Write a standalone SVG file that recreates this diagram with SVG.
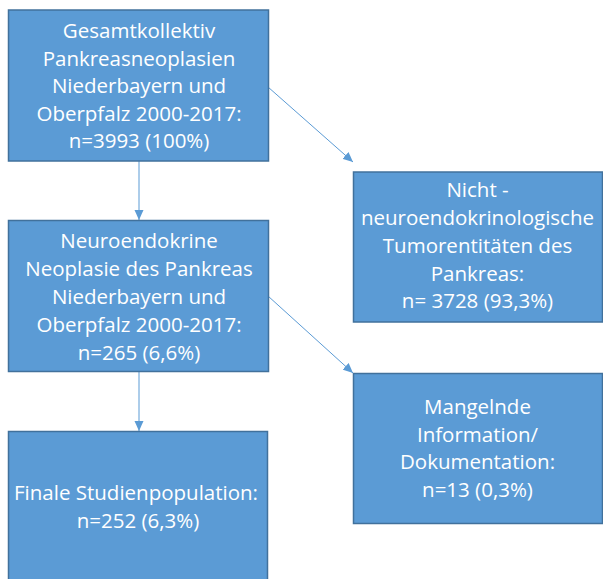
<svg xmlns="http://www.w3.org/2000/svg" width="603" height="579" viewBox="0 0 603 579">
<style>
.box{fill:#5B9BD5;stroke:#41719C;stroke-width:1.5}
.t{font-family:"Open Sans","Liberation Sans",Arial,sans-serif;font-size:20.5px;fill:#FFFFFF;text-anchor:middle}
.c{stroke:#5B9BD5;stroke-width:1;fill:none}
</style>
<defs>
<marker id="ah" markerWidth="10" markerHeight="10" refX="10" refY="5" orient="auto" markerUnits="userSpaceOnUse">
<path d="M0,0.5 L10,5 L0,9.5 Z" fill="#5B9BD5"/>
</marker>
</defs>
<rect width="603" height="579" fill="#FFFFFF"/>
<g id="connectors">
<line class="c" x1="139" y1="161" x2="139" y2="220" marker-end="url(#ah)"/>
<line class="c" x1="139" y1="372" x2="139" y2="431" marker-end="url(#ah)"/>
<line class="c" x1="268" y1="87" x2="353" y2="162" marker-end="url(#ah)"/>
<line class="c" x1="268" y1="296" x2="353" y2="373" marker-end="url(#ah)"/>
</g>
<g id="node-gesamt">
<rect class="box" x="8.5" y="10" width="260" height="151"/>
<text class="t" x="139" y="38">Gesamtkollektiv</text>
<text class="t" x="139" y="65.5">Pankreasneoplasien</text>
<text class="t" x="139" y="93">Niederbayern und</text>
<text class="t" x="139" y="120.5">Oberpfalz 2000-2017:</text>
<text class="t" x="139" y="148">n=3993 (100%)</text>
</g>
<g id="node-net">
<rect class="box" x="8.5" y="220.5" width="260" height="151"/>
<text class="t" x="139" y="248">Neuroendokrine</text>
<text class="t" x="139" y="276">Neoplasie des Pankreas</text>
<text class="t" x="139" y="304">Niederbayern und</text>
<text class="t" x="139" y="332">Oberpfalz 2000-2017:</text>
<text class="t" x="139" y="360">n=265 (6,6%)</text>
</g>
<g id="node-final">
<rect class="box" x="8.5" y="431.5" width="259" height="160"/>
<text class="t" x="136" y="500">Finale Studienpopulation:</text>
<text class="t" x="138" y="528">n=252 (6,3%)</text>
</g>
<g id="node-nicht">
<rect class="box" x="353.5" y="172" width="249" height="150"/>
<text class="t" x="477.5" y="197">Nicht -</text>
<text class="t" x="477.5" y="225">neuroendokrinologische</text>
<text class="t" x="477.5" y="253">Tumorentitäten des</text>
<text class="t" x="477.5" y="281">Pankreas:</text>
<text class="t" x="477.5" y="308">n= 3728 (93,3%)</text>
</g>
<g id="node-mangel">
<rect class="box" x="353.5" y="373.5" width="249" height="150"/>
<text class="t" x="477.5" y="414">Mangelnde</text>
<text class="t" x="477.5" y="442">Information/</text>
<text class="t" x="477.5" y="469">Dokumentation:</text>
<text class="t" x="477.5" y="497">n=13 (0,3%)</text>
</g>
</svg>
